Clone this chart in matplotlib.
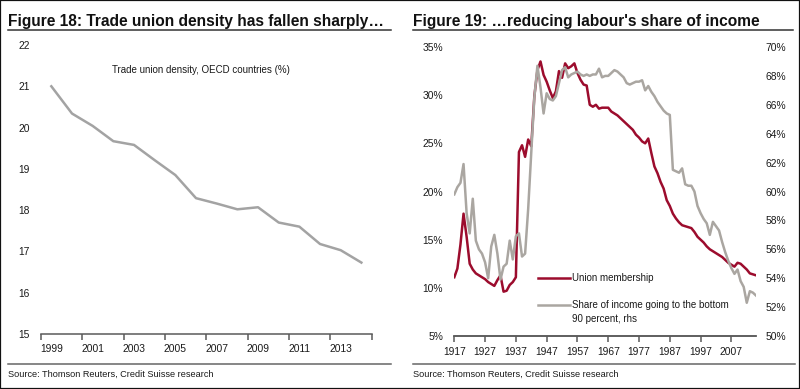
import matplotlib
matplotlib.use('Agg')
import matplotlib.pyplot as plt
from matplotlib.lines import Line2D
from matplotlib.patches import Rectangle

plt.rcParams['font.family'] = ['Liberation Sans', 'DejaVu Sans']

# ---------------- data ----------------
density_years = list(range(1999, 2015))
density_values = [21.0, 20.34, 20.04, 19.67, 19.58, 19.21, 18.85, 18.29,
                  18.16, 18.02, 18.07, 17.70, 17.60, 17.18, 17.03, 16.73]
density_yticks = [15, 16, 17, 18, 19, 20, 21, 22]
density_xlabels = [1999, 2001, 2003, 2005, 2007, 2009, 2011, 2013]

share_years = list(range(1917, 2016))
union_values = [
    11.1, 12.0, 14.5, 17.7, 15.3, 12.5, 11.9, 11.5, 11.3, 11.1,
    10.9, 10.6, 10.4, 10.2, 10.8, 11.3, 9.6, 9.7, 10.3, 10.6,
    11.1, 24.1, 24.8, 23.6, 25.4, 24.7, 29.9, 32.6, 33.5, 32.1,
    31.4, 30.5, 29.7, 30.4, 32.5, 31.8, 33.3, 32.8, 33.0, 33.3,
    32.3, 31.6, 31.1, 31.0, 29.0, 28.8, 29.0, 28.6, 28.7, 28.7,
    28.7, 28.3, 28.1, 27.9, 27.6, 27.3, 27.0, 26.7, 26.4, 25.9,
    25.6, 25.2, 25.0, 25.5, 24.0, 22.6, 21.9, 21.0, 20.3, 19.1,
    18.5, 17.7, 17.2, 16.8, 16.5, 16.4, 16.3, 16.2, 15.8, 15.3,
    15.0, 14.7, 14.3, 14.0, 13.8, 13.6, 13.4, 13.2, 12.9, 12.6,
    12.4, 12.2, 12.6, 12.5, 12.2, 11.9, 11.5, 11.4, 11.3]
income_values = [
    59.8, 60.3, 60.6, 61.9, 58.5, 57.1, 59.5, 56.6, 56.0, 55.7,
    55.1, 54.0, 56.2, 57.0, 55.7, 53.9, 54.8, 55.0, 56.6, 55.3,
    56.9, 57.1, 55.5, 55.7, 58.8, 62.7, 66.5, 68.7, 67.2, 65.4,
    66.8, 66.4, 66.3, 66.6, 67.5, 68.4, 68.6, 67.9, 68.1, 68.2,
    68.3, 68.1, 68.0, 68.1, 68.0, 68.1, 68.1, 68.5, 67.9, 68.0,
    68.0, 68.2, 68.4, 68.3, 68.1, 67.9, 67.5, 67.4, 67.5, 67.6,
    67.6, 67.7, 67.0, 67.3, 66.9, 66.6, 66.2, 65.9, 65.6, 65.4,
    65.3, 61.5, 61.4, 61.3, 61.6, 60.5, 60.4, 60.4, 60.0, 59.0,
    58.5, 58.1, 57.8, 57.0, 57.9, 57.6, 57.3, 56.5, 55.8, 55.2,
    54.7, 54.3, 54.6, 53.8, 53.4, 52.3, 53.1, 53.0, 52.8]
union_yticks = [5, 10, 15, 20, 25, 30, 35]
income_yticks = [50, 52, 54, 56, 58, 60, 62, 64, 66, 68, 70]
share_xticks = [1917, 1927, 1937, 1947, 1957, 1967, 1977, 1987, 1997, 2007]

# ---------------- layout helpers ----------------
W, H = 800, 389
fig = plt.figure(figsize=(8, 3.89), dpi=100)


def fx(px):
    return px / W


def fy(py):
    return 1 - py / H


def box(l, t, r, b):
    return [fx(l), fy(b), fx(r) - fx(l), fy(t) - fy(b)]


TXT = '#1a1a1a'
AX = '#5a5a5a'
TICK_FS = 7.4
LEG_FS = 7.0

# ---------------- left chart ----------------
ax1 = fig.add_axes(box(41, 45, 371.7, 334))
ax1.plot(density_years, density_values, color='#a3a3a3', lw=1.8,
         solid_joinstyle='round')
ax1.set_xlim(1998.5, 2014.5)
ax1.set_ylim(15, 22)
for s in ['top', 'right', 'left']:
    ax1.spines[s].set_visible(False)
ax1.spines['bottom'].set_color(AX)
ax1.spines['bottom'].set_linewidth(1.1)
ax1.set_yticks(density_yticks)
ax1.set_yticklabels([str(v) for v in density_yticks])
ax1.tick_params(axis='y', length=0, pad=8, labelsize=TICK_FS, labelcolor=TXT)
ax1.set_xticks([y - 0.5 for y in range(1999, 2016, 2)])
ax1.set_xticklabels([])
ax1.set_xticks(density_xlabels, minor=True)
ax1.set_xticklabels([str(v) for v in density_xlabels], minor=True)
ax1.tick_params(axis='x', which='major', direction='out', length=4,
                width=1.1, color=AX)
ax1.tick_params(axis='x', which='minor', length=0, pad=7.5,
                labelsize=TICK_FS, labelcolor=TXT)
ax1.text(0.484, 0.915, 'Trade union density, OECD countries (%)',
         transform=ax1.transAxes, ha='center', va='center',
         fontsize=7.0, color=TXT)

# ---------------- right chart ----------------
ax2 = fig.add_axes(box(454.3, 47, 756, 336))
ax3 = ax2.twinx()
l_union, = ax2.plot(share_years, union_values, color='#9c0c2d', lw=1.8,
                    label='Union membership', zorder=3)
l_income, = ax3.plot(share_years, income_values, color='#aaa6a1', lw=1.8,
                     label='Share of income going to the bottom')
ax2.set_xlim(1917, 2015)
ax2.set_ylim(5, 35)
ax3.set_ylim(50, 70)
for a in (ax2, ax3):
    for s in ['top', 'right', 'left']:
        a.spines[s].set_visible(False)
    a.spines['bottom'].set_color(AX)
    a.spines['bottom'].set_linewidth(1.1)
ax2.set_yticks(union_yticks)
ax2.set_yticklabels(['%d%%' % v for v in union_yticks])
ax2.tick_params(axis='y', length=0, pad=8, labelsize=TICK_FS, labelcolor=TXT)
ax3.set_yticks(income_yticks)
ax3.set_yticklabels(['%d%%' % v for v in income_yticks])
ax3.tick_params(axis='y', length=0, pad=7, labelsize=TICK_FS, labelcolor=TXT)
ax2.set_xticks(share_xticks)
ax2.set_xticklabels([str(v) for v in share_xticks])
ax2.tick_params(axis='x', direction='out', length=4, width=1.1, color=AX,
                pad=4, labelsize=TICK_FS, labelcolor=TXT)

leg_kw = dict(frameon=False, fontsize=LEG_FS, handlelength=3.3,
              handletextpad=0.15, borderpad=0, borderaxespad=0,
              labelcolor=TXT, loc='center left',
              bbox_transform=fig.transFigure)
ax2.legend(handles=[l_union], bbox_to_anchor=(fx(538), fy(278)), **leg_kw)
ax3.legend(handles=[l_income], bbox_to_anchor=(fx(538), fy(305)), **leg_kw)
fig.text(fx(572), fy(318.5), '90 percent, rhs', fontsize=LEG_FS, color=TXT,
         va='center', ha='left')

# ---------------- titles, rules, sources ----------------
fig.text(fx(8), fy(26), 'Figure 18: Trade union density has fallen sharply…',
         fontsize=11.2, fontweight='bold', color='#111111', va='baseline')
fig.text(fx(413), fy(26), "Figure 19: …reducing labour's share of income",
         fontsize=11.2, fontweight='bold', color='#111111', va='baseline')
for (x0, x1) in [(8, 391), (413, 793)]:
    fig.add_artist(Line2D([fx(x0), fx(x1)], [fy(29.5), fy(29.5)],
                          transform=fig.transFigure, color='#333333', lw=1.1))
for (x0, x1) in [(8, 391), (413, 795)]:
    fig.add_artist(Line2D([fx(x0), fx(x1)], [fy(363.5), fy(363.5)],
                          transform=fig.transFigure, color='#666666', lw=1.1))
fig.text(fx(8), fy(376.5), 'Source: Thomson Reuters, Credit Suisse research',
         fontsize=6.6, color=TXT, va='baseline')
fig.text(fx(413), fy(376.5), 'Source: Thomson Reuters, Credit Suisse research',
         fontsize=6.6, color=TXT, va='baseline')

fig.add_artist(Rectangle((0, 0), 1, 1, transform=fig.transFigure,
                         fill=False, edgecolor='#111111', lw=1.6))

fig.savefig('out.png', dpi=100, facecolor='white')
